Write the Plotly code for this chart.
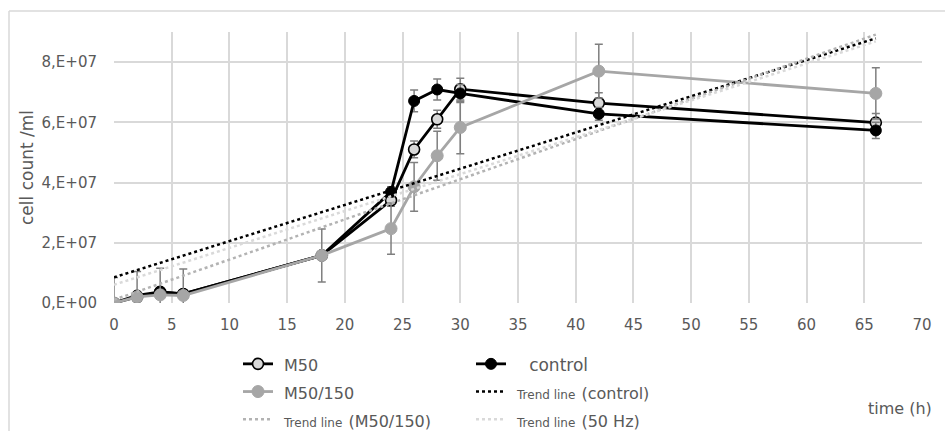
import numpy as np
import plotly.graph_objects as go

# ---------------- data ----------------
time_h = [0, 2, 4, 6, 18, 24, 26, 28, 30, 42, 66]
m50 = [0.0, 0.20, 0.37, 0.30, 1.58, 3.41, 5.10, 6.10, 7.10, 6.64, 5.99]          # x1e7 cells/ml
control = [0.0, 0.25, 0.37, 0.30, 1.58, 3.69, 6.71, 7.09, 6.96, 6.28, 5.73]
m50_150 = [0.0, 0.20, 0.27, 0.25, 1.58, 2.47, 3.86, 4.89, 5.83, 7.70, 6.96]
m50_err = [0.0, 0.10, 0.10, 0.10, 0.10, 0.20, 0.28, 0.30, 0.36, 0.34, 0.30]
control_err = [0.0, 0.10, 0.10, 0.10, 0.10, 0.17, 0.36, 0.35, 0.30, 0.21, 0.27]
m50_150_err = [0.85, 0.85, 0.88, 0.88, 0.88, 0.85, 0.81, 0.81, 0.87, 0.89, 0.85]
scale = 1e7

y_tickvals = [0, 2e7, 4e7, 6e7, 8e7]
y_ticktext = ["0,E+00", "2,E+07", "4,E+07", "6,E+07", "8,E+07"]
x_tickvals = list(range(0, 71, 5))

# ---------------- styling ----------------
W, H = 945, 431
ML, MR, MT, MB = 114, 23, 32, 128
PW, PH = W - ML - MR, H - MT - MB
TXT = "#595959"
GRID = "#d9d9d9"
ERR = "#7f7f7f"
FONT = "DejaVu Sans"


def sc(v):
    return [a * scale for a in v]


def trend(y):
    k, b = np.polyfit(time_h, sc(y), 1)
    xs = [min(time_h), max(time_h)]
    return xs, [k * x + b for x in xs]


def span(t, s):
    return f"<span style='font-size:{s}px'>{t}</span>"


small = span("Trend line", 12)

fig = go.Figure()

fig.add_trace(go.Scatter(
    x=time_h, y=sc(m50), name=" " + span("M50", 16), mode="lines+markers", legend="legend",
    line=dict(color="black", width=2.8),
    marker=dict(size=11, color="#d9d9d9", line=dict(color="black", width=1.6)),
    error_y=dict(type="data", array=sc(m50_err), color=ERR, thickness=1.5, width=4),
))
fig.add_trace(go.Scatter(
    x=time_h, y=sc(control), name="   " + span("control", 17), mode="lines+markers", legend="legend2",
    line=dict(color="black", width=2.8),
    marker=dict(size=11, color="black", line=dict(color="black", width=1)),
    error_y=dict(type="data", array=sc(control_err), color=ERR, thickness=1.5, width=4),
))
fig.add_trace(go.Scatter(
    x=time_h, y=sc(m50_150), name=" " + span("M50/150", 16), mode="lines+markers", legend="legend",
    line=dict(color="#a6a6a6", width=2.8),
    marker=dict(size=12, color="#a6a6a6", line=dict(color="#a6a6a6", width=1)),
    error_y=dict(type="data", array=sc(m50_150_err), color=ERR, thickness=1.5, width=4),
))

tx, ty = trend(control)
fig.add_trace(go.Scatter(x=tx, y=ty, mode="lines", legend="legend2",
                         name=" " + small + " " + span("(control)", 16),
                         line=dict(color="black", width=2.5, dash="dot")))
tx, ty = trend(m50_150)
fig.add_trace(go.Scatter(x=tx, y=ty, mode="lines", legend="legend",
                         name=" " + small + " " + span("(M50/150)", 16),
                         line=dict(color="#b3b3b3", width=2.5, dash="dot")))
tx, ty = trend(m50)
fig.add_trace(go.Scatter(x=tx, y=ty, mode="lines", legend="legend2",
                         name=" " + small + " " + span("(50 Hz)", 16),
                         line=dict(color="#d9d9d9", width=2.5, dash="dot")))


def px_x(p):
    return (p - ML) / PW


def px_y(p):
    return (H - MB - p) / PH


def leg(xp):
    return dict(
        orientation="v", x=px_x(xp), y=px_y(345), xanchor="left", yanchor="top",
        font=dict(family=FONT, size=19, color=TXT),
        traceorder="normal", bgcolor="rgba(0,0,0,0)",
    )


fig.update_layout(
    width=W, height=H,
    margin=dict(l=ML, r=MR, t=MT, b=MB, autoexpand=False),
    paper_bgcolor="white", plot_bgcolor="white",
    font=dict(family=FONT, color=TXT, size=15),
    showlegend=True,
    legend=leg(238),
    legend2=leg(471),
    xaxis=dict(
        range=[0, 70], tickvals=x_tickvals, showgrid=True, gridcolor=GRID, gridwidth=1.5,
        zeroline=False, showline=False, ticks="", ticklabelstandoff=11,
        tickfont=dict(family=FONT, size=15, color=TXT),
    ),
    yaxis=dict(
        range=[0, 9e7], tickvals=y_tickvals, ticktext=y_ticktext, showgrid=True,
        gridcolor=GRID, gridwidth=1.5, zeroline=False, showline=False, ticks="",
        ticklabelstandoff=16, tickfont=dict(family=FONT, size=15, color=TXT),
        title=dict(text="cell count /ml", font=dict(family=FONT, size=17, color=TXT), standoff=3),
    ),
    annotations=[dict(
        text="time (h)", xref="paper", yref="paper", x=px_x(900), y=px_y(408),
        xanchor="center", yanchor="middle", showarrow=False,
        font=dict(family=FONT, size=16, color=TXT),
    )],
    shapes=[
        dict(type="line", xref="paper", yref="paper", x0=px_x(9), x1=px_x(9),
             y0=px_y(11), y1=px_y(H + 5), line=dict(color=GRID, width=1.5)),
        dict(type="line", xref="paper", yref="paper", x0=px_x(9), x1=px_x(W + 5),
             y0=px_y(11), y1=px_y(11), line=dict(color=GRID, width=1.5)),
    ],
)

fig.write_html("out.html", config={"displayModeBar": False},
               post_script="document.body.style.margin='0px';")
